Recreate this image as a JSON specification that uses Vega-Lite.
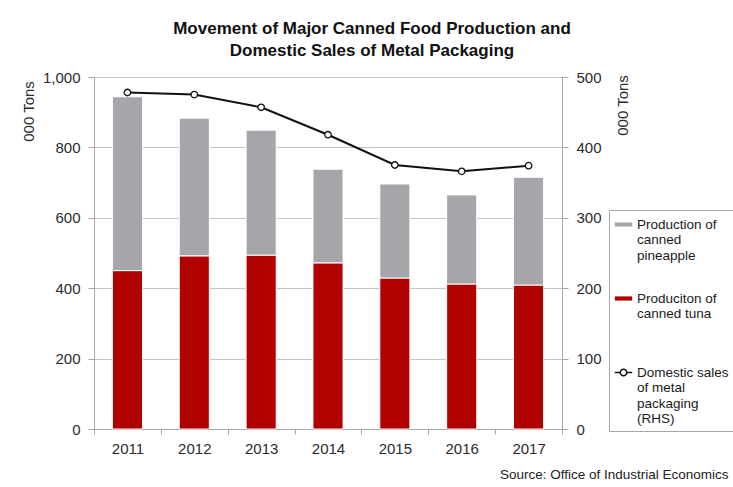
{
  "$schema": "https://vega.github.io/schema/vega-lite/v6.json",
  "autosize": "none",
  "width": 468,
  "height": 352,
  "padding": {"left": 94, "top": 77, "right": 171, "bottom": 58},
  "background": "white",
  "config": {
    "font": "Liberation Sans",
    "view": {"stroke": null},
    "axis": {"labelFont": "Liberation Sans", "titleFont": "Liberation Sans", "labelColor": "#2b2b2b", "titleColor": "#2b2b2b", "domainColor": "#a6a6a6", "tickColor": "#a6a6a6", "gridColor": "#c4c4c4"},
    "legend": {
      "orient": "none",
      "legendX": 515,
      "legendY": 133,
      "strokeColor": "#a6a6a6",
      "fillColor": "white",
      "padding": 5,
      "labelFont": "Liberation Sans",
      "labelFontSize": 13.5,
      "labelColor": "#1a1a1a",
      "labelBaseline": "middle",
      "labelOffset": 4,
      "labelLimit": 200,
      "symbolSize": 300,
      "symbolStrokeWidth": 1.5,
      "rowPadding": 27
    }
  },
  "title": {
    "text": ["Movement of Major Canned Food Production and", "Domestic Sales of Metal Packaging"],
    "font": "Liberation Sans",
    "fontSize": 17,
    "fontWeight": "bold",
    "color": "#111111",
    "anchor": "middle",
    "frame": "group",
    "dx": 44,
    "lineHeight": 22,
    "offset": 10
  },
  "datasets": {
    "bars": [
      {"year": "2011", "series": "Produciton of canned tuna", "value": 450, "ord": 1},
      {"year": "2012", "series": "Produciton of canned tuna", "value": 492, "ord": 1},
      {"year": "2013", "series": "Produciton of canned tuna", "value": 494, "ord": 1},
      {"year": "2014", "series": "Produciton of canned tuna", "value": 472, "ord": 1},
      {"year": "2015", "series": "Produciton of canned tuna", "value": 429, "ord": 1},
      {"year": "2016", "series": "Produciton of canned tuna", "value": 412, "ord": 1},
      {"year": "2017", "series": "Produciton of canned tuna", "value": 409, "ord": 1},
      {"year": "2011", "series": "Production of canned pineapple", "value": 494, "ord": 2},
      {"year": "2012", "series": "Production of canned pineapple", "value": 391, "ord": 2},
      {"year": "2013", "series": "Production of canned pineapple", "value": 355, "ord": 2},
      {"year": "2014", "series": "Production of canned pineapple", "value": 266, "ord": 2},
      {"year": "2015", "series": "Production of canned pineapple", "value": 267, "ord": 2},
      {"year": "2016", "series": "Production of canned pineapple", "value": 253, "ord": 2},
      {"year": "2017", "series": "Production of canned pineapple", "value": 306, "ord": 2}
    ],
    "sales": [
      {"year": "2011", "series": "Domestic sales of metal packaging (RHS)", "value": 478},
      {"year": "2012", "series": "Domestic sales of metal packaging (RHS)", "value": 475},
      {"year": "2013", "series": "Domestic sales of metal packaging (RHS)", "value": 457},
      {"year": "2014", "series": "Domestic sales of metal packaging (RHS)", "value": 418},
      {"year": "2015", "series": "Domestic sales of metal packaging (RHS)", "value": 375},
      {"year": "2016", "series": "Domestic sales of metal packaging (RHS)", "value": 366},
      {"year": "2017", "series": "Domestic sales of metal packaging (RHS)", "value": 374}
    ]
  },
  "encoding": {
    "x": {
      "field": "year",
      "type": "ordinal",
      "scale": {"paddingInner": 0, "paddingOuter": 0},
      "axis": {
        "labelAngle": 0,
        "labelFontSize": 15,
        "tickBand": "extent",
        "tickSize": 5,
        "labelPadding": 7,
        "title": "Source: Office of Industrial Economics",
        "titleFontSize": 13.5,
        "titleFontWeight": "normal",
        "titleColor": "#222222",
        "titleX": 634,
        "titleY": 45,
        "titleAlign": "right",
        "titleBaseline": "middle"
      }
    }
  },
  "layer": [
    {
      "data": {"name": "bars"},
      "mark": {"type": "bar", "width": {"band": 0.45}, "stroke": "white", "strokeWidth": 1},
      "encoding": {
        "y": {
          "field": "value",
          "type": "quantitative",
          "stack": "zero",
          "scale": {"domain": [0, 1000]},
          "axis": {
            "orient": "left",
            "values": [0, 200, 400, 600, 800, 1000],
            "format": ",d",
            "labelFontSize": 15,
            "tickSize": 6,
            "labelPadding": 8,
            "grid": true,
            "title": "000 Tons",
            "titleFontSize": 15,
            "titleFontWeight": "normal",
            "titleAngle": 270,
            "titleX": -66,
            "titleY": 34,
            "titleAlign": "center",
            "titleBaseline": "middle"
          }
        },
        "fill": {
          "field": "series",
          "type": "nominal",
          "scale": {
            "domain": ["Production of canned pineapple", "Produciton of canned tuna", "Domestic sales of metal packaging (RHS)"],
            "range": ["#a6a6aa", "#b00000", "#ffffff"]
          },
          "legend": {
            "title": null,
            "labelExpr": "datum.label == 'Production of canned pineapple' ? ['Production of', 'canned', 'pineapple'] : datum.label == 'Produciton of canned tuna' ? ['Produciton of', 'canned tuna', ''] : ['Domestic sales', 'of metal', 'packaging', '(RHS)']"
          }
        },
        "order": {"field": "ord", "type": "quantitative"}
      }
    },
    {
      "data": {"name": "sales"},
      "encoding": {
        "y": {
          "field": "value",
          "type": "quantitative",
          "scale": {"domain": [0, 500]},
          "axis": {
            "orient": "right",
            "values": [0, 100, 200, 300, 400, 500],
            "labelFontSize": 15,
            "tickSize": 6,
            "labelPadding": 8,
            "grid": false,
            "title": "000 Tons",
            "titleFontSize": 15,
            "titleFontWeight": "normal",
            "titleAngle": 270,
            "titleX": 60,
            "titleY": 28,
            "titleAlign": "center",
            "titleBaseline": "middle"
          }
        }
      },
      "layer": [
        {
          "mark": {"type": "line", "strokeWidth": 2},
          "encoding": {
            "stroke": {
              "field": "series",
              "type": "nominal",
              "scale": {
                "domain": ["Production of canned pineapple", "Produciton of canned tuna", "Domestic sales of metal packaging (RHS)"],
                "range": ["transparent", "transparent", "#111111"]
              },
              "legend": {
                "title": null,
                "labelExpr": "datum.label == 'Production of canned pineapple' ? ['Production of', 'canned', 'pineapple'] : datum.label == 'Produciton of canned tuna' ? ['Produciton of', 'canned tuna', ''] : ['Domestic sales', 'of metal', 'packaging', '(RHS)']"
              }
            }
          }
        },
        {
          "mark": {"type": "point", "opacity": 0, "size": 42},
          "encoding": {
            "shape": {
              "field": "series",
              "type": "nominal",
              "scale": {
                "domain": ["Production of canned pineapple", "Produciton of canned tuna", "Domestic sales of metal packaging (RHS)"],
                "range": ["M-1,-0.24H1V0.24H-1Z", "M-1,-0.24H1V0.24H-1Z", "M-1,0H-0.38M0.38,0H1M0.38,0A0.38,0.38,0,1,1,-0.38,0A0.38,0.38,0,1,1,0.38,0Z"]
              },
              "legend": {
                "title": null,
                "labelExpr": "datum.label == 'Production of canned pineapple' ? ['Production of', 'canned', 'pineapple'] : datum.label == 'Produciton of canned tuna' ? ['Produciton of', 'canned tuna', ''] : ['Domestic sales', 'of metal', 'packaging', '(RHS)']"
              }
            }
          }
        },
        {
          "mark": {"type": "point", "filled": true, "fill": "white", "stroke": "#111111", "strokeWidth": 1.3, "size": 42, "opacity": 1}
        }
      ]
    }
  ],
  "resolve": {"scale": {"y": "independent"}, "axis": {"y": "independent"}}
}
